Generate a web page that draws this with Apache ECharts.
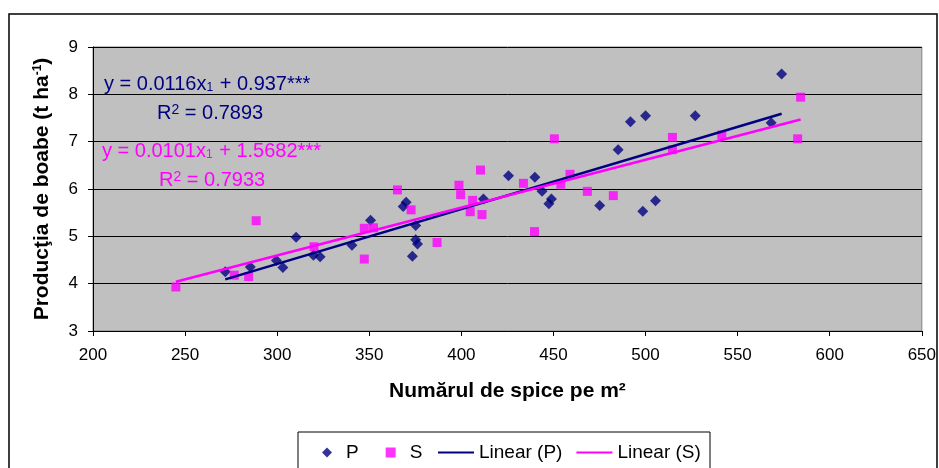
<!DOCTYPE html>
<html>
<head>
<meta charset="utf-8">
<script src="https://cdn.jsdelivr.net/npm/echarts@6/dist/echarts.min.js"></script>
<style>
  html, body { margin: 0; padding: 0; background: #fff; }
  #chart { width: 939px; height: 468px; }
</style>
</head>
<body>
<div id="chart"></div>
<script>
// spice pe m2 / productie (t/ha)
const pointsP = [
  [271.8, 4.25], [285.4, 4.35], [299.6, 4.49], [303.1, 4.34], [310.3, 4.98],
  [319.7, 4.60], [323.3, 4.57], [340.6, 4.81], [350.7, 5.34], [368.4, 5.63],
  [370.0, 5.72], [375.2, 5.23], [375.2, 4.93], [376.2, 4.84], [373.4, 4.58],
  [412.0, 5.79], [425.6, 6.28], [439.9, 6.25], [443.8, 5.95], [448.9, 5.79],
  [447.5, 5.69], [475.1, 5.65], [485.1, 6.83], [491.8, 7.42], [500.0, 7.55],
  [498.5, 5.53], [505.4, 5.75], [527.0, 7.55], [568.2, 7.40], [573.9, 8.43],
];
const pointsS = [
  [245.0, 3.93], [276.7, 4.18], [284.5, 4.15], [288.6, 5.33], [320.0, 4.78],
  [347.3, 4.52], [347.3, 5.17], [352.3, 5.18], [365.3, 5.98], [372.7, 5.56],
  [386.8, 4.87], [398.7, 6.08], [399.6, 5.88], [404.8, 5.52], [406.1, 5.76],
  [410.4, 6.40], [411.2, 5.46], [433.7, 6.12], [439.7, 5.10], [450.5, 7.06],
  [454.0, 6.10], [459.0, 6.31], [468.4, 5.95], [482.5, 5.86], [514.6, 7.09],
  [514.6, 6.83], [541.4, 7.14], [584.2, 7.94], [582.6, 7.06],
];
// capetele dreptelor de regresie
const trendP = [[271.8, 4.09], [573.9, 7.59]];
const trendS = [[245.0, 4.04], [584.2, 7.47]];

const seriesNames = ['P', 'S', 'Linear (P)', 'Linear (S)'];
const eqP = ['y = 0.0116x', '1', ' + 0.937***'];
const r2P = '0.7893';
const eqS = ['y = 0.0101x', '1', ' + 1.5682***'];
const r2S = '0.7933';

const FONT = '"Liberation Sans", Arial, sans-serif';
const NAVY = '#000080';
const MAGENTA = '#FF00FF';

const eqText = (x, y, parts, color) => ({
  type: 'text',
  x,
  y,
  silent: true,
  style: {
    text: `{m|${parts[0]}}{s|${parts[1]}}{m|${parts[2]}}`,
    fill: color,
    verticalAlign: 'middle',
    rich: {
      m: { fontSize: 20, fontFamily: FONT, color },
      s: { fontSize: 12, fontFamily: FONT, color, verticalAlign: 'bottom', padding: [0, 1, 0, 0] },
    },
  },
});
const r2Text = (x, y, value, color) => ({
  type: 'text',
  x,
  y,
  silent: true,
  style: {
    text: `{m|R}{p|2}{m| = ${value}}`,
    fill: color,
    verticalAlign: 'middle',
    rich: {
      m: { fontSize: 20, fontFamily: FONT, color },
      p: { fontSize: 14, fontFamily: FONT, color, verticalAlign: 'top' },
    },
  },
});

const legendText = { fontSize: 19, color: '#000', fontFamily: FONT };

const chart = echarts.init(document.getElementById('chart'));
chart.setOption({
  animation: false,
  backgroundColor: '#fff',
  textStyle: { fontFamily: FONT },
  grid: {
    left: 93, right: 15, top: 47, bottom: 137,
    show: true, backgroundColor: '#C0C0C0', borderColor: '#808080', borderWidth: 1,
  },
  // markers and lines need different icon widths, so two legends share one box
  legend: [
    {
      data: seriesNames.slice(0, 2),
      left: 322,
      top: 443,
      padding: 0,
      itemWidth: 10,
      itemHeight: 10,
      itemGap: 27,
      textStyle: { ...legendText, padding: [0, 0, 0, 9] },
    },
    {
      data: seriesNames.slice(2).map((name) => ({ name, itemStyle: { opacity: 0 } })),
      left: 437,
      top: 443,
      padding: 0,
      itemWidth: 36,
      itemHeight: 10,
      itemGap: 13,
      textStyle: legendText,
    },
  ],
  xAxis: {
    type: 'value',
    min: 200,
    max: 650,
    interval: 50,
    name: 'Numărul de spice pe m²',
    nameLocation: 'middle',
    nameGap: 50,
    nameTextStyle: { fontSize: 21, fontWeight: 'bold', color: '#000', fontFamily: FONT },
    axisLine: { lineStyle: { color: '#000', width: 1 } },
    axisTick: { show: true, length: 5, lineStyle: { color: '#000' } },
    axisLabel: { fontSize: 17, color: '#000', margin: 16 },
    splitLine: { show: false },
  },
  yAxis: {
    type: 'value',
    min: 3,
    max: 9,
    interval: 1,
    name: '{b|Producţia de boabe (t ha}{p|-1}{b|)}',
    nameLocation: 'middle',
    nameGap: 40,
    nameTextStyle: {
      rich: {
        b: { fontSize: 21, fontWeight: 'bold', color: '#000', fontFamily: FONT },
        p: { fontSize: 12, fontWeight: 'bold', color: '#000', fontFamily: FONT, verticalAlign: 'top' },
      },
    },
    axisLine: { show: true, lineStyle: { color: '#000', width: 1 } },
    axisTick: { show: true, length: 5, lineStyle: { color: '#000' } },
    axisLabel: { fontSize: 17, color: '#000', margin: 15 },
    splitLine: { show: true, lineStyle: { color: '#000', width: 1 } },
  },
  graphic: [
    {
      type: 'rect',
      silent: true,
      z: -10,
      shape: { x: 9, y: 14, width: 928, height: 480 },
      style: { fill: 'none', stroke: '#000', lineWidth: 1.5 },
    },
    {
      type: 'rect',
      silent: true,
      shape: { x: 298, y: 432, width: 412, height: 60 },
      style: { fill: 'none', stroke: '#000', lineWidth: 1 },
    },
    eqText(104, 84, eqP, NAVY),
    r2Text(157, 113, r2P, NAVY),
    eqText(102, 151, eqS, MAGENTA),
    r2Text(159, 180, r2S, MAGENTA),
  ],
  series: [
    {
      name: 'P',
      type: 'scatter',
      symbol: 'diamond',
      symbolSize: 11,
      itemStyle: { color: NAVY },
      data: pointsP,
    },
    {
      name: 'S',
      type: 'scatter',
      symbol: 'rect',
      symbolSize: 9,
      itemStyle: { color: MAGENTA },
      data: pointsS,
    },
    {
      name: 'Linear (P)',
      type: 'line',
      symbol: 'none',
      lineStyle: { color: NAVY, width: 2.5 },
      itemStyle: { color: NAVY },
      data: trendP,
      z: 3,
    },
    {
      name: 'Linear (S)',
      type: 'line',
      symbol: 'none',
      lineStyle: { color: MAGENTA, width: 2.5 },
      itemStyle: { color: MAGENTA },
      data: trendS,
      z: 3,
    },
  ],
});
</script>
</body>
</html>
